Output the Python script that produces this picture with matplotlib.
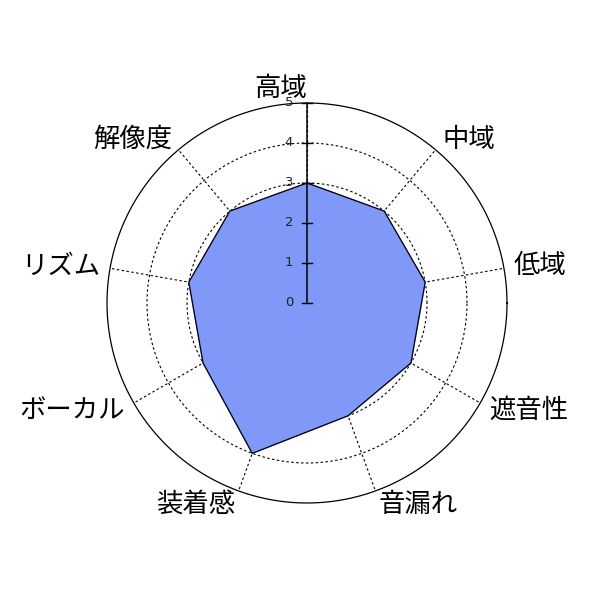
import numpy as np
import matplotlib
matplotlib.use("Agg")
import matplotlib.pyplot as plt

categories = ["高域", "中域", "低域", "遮音性", "音漏れ", "装着感", "ボーカル", "リズム", "解像度"]
values = [3, 3, 3, 3, 3, 4, 3, 3, 3]
rmax = 5
ring_levels = [1, 2, 3, 4]
tick_labels = ["0", "1", "2", "3", "4", "5"]

plt.rcParams['font.family'] = ['Noto Sans CJK JP', 'DejaVu Sans']

fig = plt.figure(figsize=(6, 6), dpi=100)
ax = fig.add_axes([0, 0, 1, 1])
ax.set_xlim(-7.675, 7.325)
ax.set_ylim(-7.425, 7.575)
ax.axis('off')

n = len(categories)
theta = np.arange(n) * 2 * np.pi / n
sx, sy = np.sin(theta), np.cos(theta)
t = np.linspace(0, 2 * np.pi, 400)
dot = (0, (2.2, 2.2))

# rings
for lv in ring_levels:
    ax.plot(lv * np.cos(t), lv * np.sin(t), color='black', lw=0.8, ls=dot, zorder=1)
ax.plot(rmax * np.cos(t), rmax * np.sin(t), color='black', lw=0.9, zorder=1)

# spokes
for i in range(n):
    ax.plot([0, rmax * sx[i]], [0, rmax * sy[i]], color='black', lw=0.8, ls=dot, zorder=1)

# polygon
v = np.array(values, dtype=float)
px, py = v * sx, v * sy
ax.fill(px, py, color='#8098F8', zorder=2)
ax.plot(np.append(px, px[0]), np.append(py, py[0]), color='black', lw=0.9, zorder=3)

# vertical axis with ticks
ax.plot([0, 0], [0, rmax], color='black', lw=1.1, zorder=4)
for k, lab in enumerate(tick_labels):
    ax.plot([-0.12, 0.12], [k, k], color='black', lw=1.0, zorder=4)
    ax.text(-0.45, k, lab, ha='center', va='center', fontsize=9.5, color='#222222',
            family='DejaVu Sans', zorder=5)

# category labels
for i, lab in enumerate(categories):
    x = 1.05 * rmax * sx[i]
    y = 1.07 * rmax * sy[i]
    ha = 'left' if sx[i] > 1e-6 else 'right'
    ax.text(x, y, lab, ha=ha, va='center', fontsize=19, color='black', zorder=5)

fig.savefig('out.png', dpi=100)
